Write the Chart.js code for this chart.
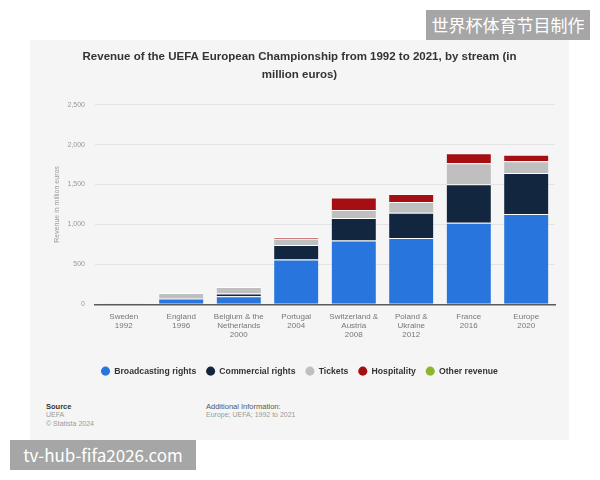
<!DOCTYPE html>
<html>
<head>
<meta charset="utf-8">
<script src="https://cdn.jsdelivr.net/npm/chart.js@4.4.0/dist/chart.umd.min.js"></script>
<style>
  body { margin: 0; width: 600px; height: 480px; background: #fff; position: relative; overflow: hidden;
         font-family: "Liberation Sans", Arial, sans-serif; }
  #tarjeta { position: absolute; left: 30px; top: 40px; width: 539px; height: 400px; background: #f5f5f5; }
  #contenedor { position: absolute; left: 0; top: 0; width: 539px; height: 350px; }
  .fuente { position: absolute; font-size: 7px; line-height: 8.6px; color: #9a9a9a; }
  .fuente b { color: #333; font-size: 7.5px; }
  .marca { position: absolute; background: #a6a6a6; color: #fff; font-family: "Noto Sans CJK SC", "DejaVu Sans", sans-serif; }
</style>
</head>
<body>
<div id="tarjeta">
  <div id="contenedor"><canvas id="ingresos"></canvas></div>
  <div class="fuente" style="left:16px; top:362.5px;"><b>Source</b><br>UEFA<br>© Statista 2024</div>
  <div class="fuente" style="left:176px; top:362.5px;"><b style="color:#555;font-weight:normal">Additional Information:</b><br>Europe; UEFA; 1992 to 2021</div>
</div>
<div class="marca" style="left:426px; top:10px; width:164px; height:30px; font-size:17px; line-height:30px; text-align:center;">世界杯体育节目制作</div>
<div class="marca" style="left:10px; top:440px; width:186px; height:30px; font-size:17px; line-height:30px; text-align:center;">tv-hub-fifa2026.com</div>

<script>
// ------------------ Datos -------------------------------

// torneos (sede y año)
const torneos = [
    ["Sweden", "1992"],
    ["England", "1996"],
    ["Belgium & the", "Netherlands", "2000"],
    ["Portugal", "2004"],
    ["Switzerland &", "Austria", "2008"],
    ["Poland &", "Ukraine", "2012"],
    ["France", "2016"],
    ["Europe", "2020"],
];

// ingresos por fuente, en millones de euros
const derechosTv = [6, 74, 100, 561, 800, 829, 1021, 1130];
const derechosComerciales = [2, 6, 34, 180, 280, 318, 483, 515];
const entradas = [4, 62, 84, 79, 101, 134, 263, 147];
const hospitalidad = [0, 0, 0, 22, 155, 101, 126, 80];
const otrosIngresos = [0, 0, 0, 0, 0, 0, 0, 0];

// marcas del eje y
const marcasY = [0, 500, 1000, 1500, 2000, 2500];

// ------------------ Grafico -------------------------------

const borde = { top: 1, right: 0, bottom: 0, left: 0 };

function serie(nombre, datos, color) {
    return {
        label: nombre,
        data: datos,
        backgroundColor: color,
        borderColor: "rgba(255,255,255,0.75)",
        borderWidth: borde,
        borderSkipped: false,
        categoryPercentage: 0.77,
        barPercentage: 1,
    };
}

let grafica = document.getElementById("ingresos").getContext("2d");
let graficaIngresos = new Chart(grafica, {
    type: "bar",
    data: {
        labels: torneos,
        datasets: [
            serie("Broadcasting rights", derechosTv, "#2876dd"),
            serie("Commercial rights", derechosComerciales, "#13263f"),
            serie("Tickets", entradas, "#bfbfbf"),
            serie("Hospitality", hospitalidad, "#a50e13"),
            serie("Other revenue", otrosIngresos, "#8db52e"),
        ],
    },
    options: {
        responsive: true,
        maintainAspectRatio: false,
        animation: false,
        layout: { padding: { top: 8, left: 14, right: 14, bottom: 4.5 } },
        plugins: {
            title: {
                display: true,
                text: ["Revenue of the UEFA European Championship from 1992 to 2021, by stream (in", "million euros)"],
                color: "#333",
                font: { family: "'Liberation Sans', Arial, sans-serif", size: 11.5, weight: "bold", lineHeight: 1.55 },
                padding: { top: 0, bottom: 21 },
            },
            legend: {
                position: "bottom",
                labels: {
                    usePointStyle: true,
                    pointStyle: "circle",
                    boxWidth: 9,
                    boxHeight: 6.4,
                    padding: 10,
                    color: "#333",
                    font: { family: "'Liberation Sans', Arial, sans-serif", size: 8.7, weight: "bold" },
                    generateLabels: (chart) =>
                        Chart.defaults.plugins.legend.labels.generateLabels(chart).map((l) => ({ ...l, lineWidth: 0 })),
                },
            },
            tooltip: { enabled: false },
        },
        scales: {
            x: {
                stacked: true,
                grid: { display: false },
                border: { display: true, color: "#5a5a5a", width: 1.5 },
                ticks: {
                    color: "#777",
                    font: { family: "'Liberation Sans', Arial, sans-serif", size: 8, lineHeight: 1.1 },
                    padding: 0,
                    maxRotation: 0,
                    autoSkip: false,
                },
                afterFit: (scale) => { scale.height = 52.5; },
            },
            y: {
                stacked: true,
                min: 0,
                max: 2500,
                afterBuildTicks: (scale) => { scale.ticks = marcasY.map((v) => ({ value: v })); },
                grid: { color: "#e4e4e4", drawTicks: false },
                border: { display: false },
                ticks: {
                    color: "#999",
                    font: { family: "'Liberation Sans', Arial, sans-serif", size: 7 },
                    padding: 10,
                },
                title: {
                    display: true,
                    text: "Revenue in million euros",
                    color: "#999",
                    font: { family: "'Liberation Sans', Arial, sans-serif", size: 7 },
                    padding: { top: 9, bottom: 0 },
                },
                afterFit: (scale) => { scale.width = 51; },
            },
        },
    },
});
</script>
</body>
</html>
